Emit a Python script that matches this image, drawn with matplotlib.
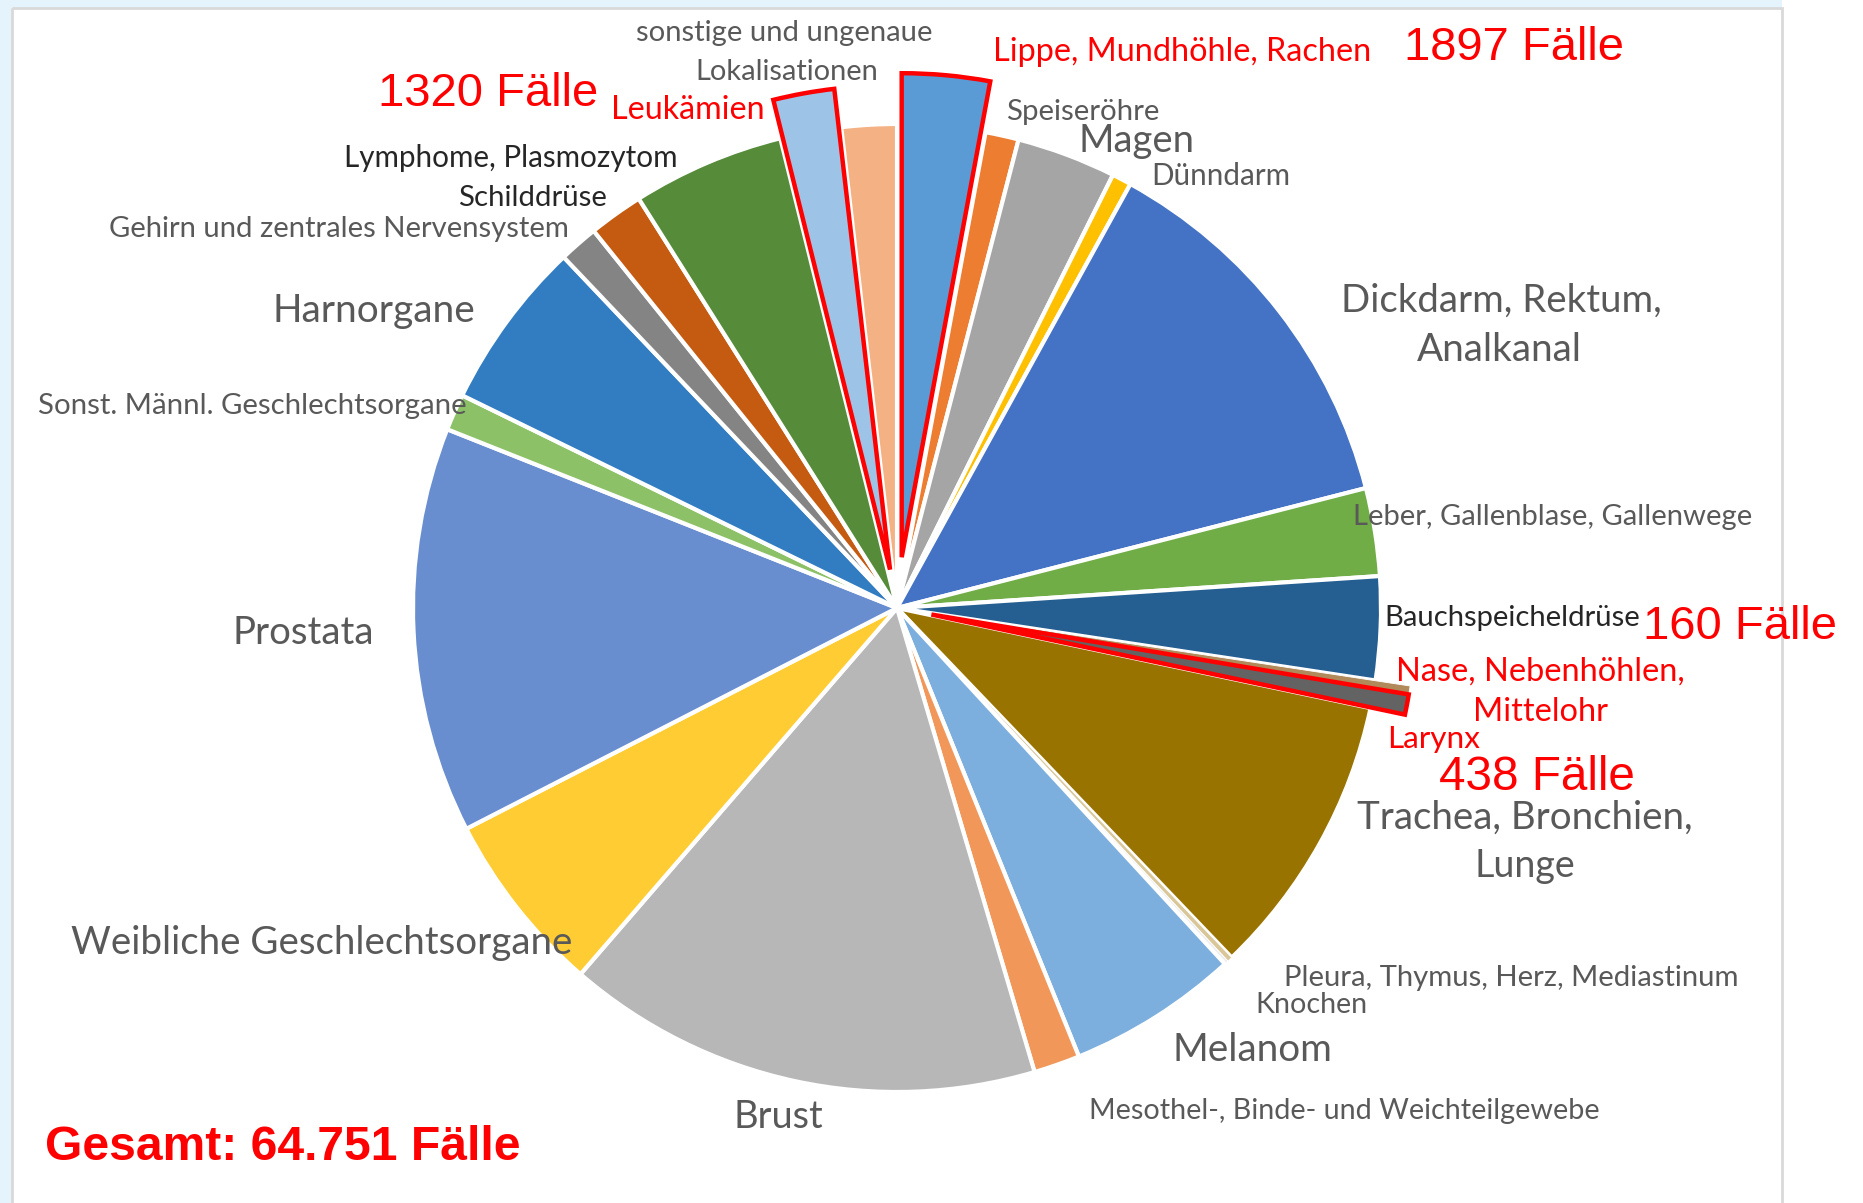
import matplotlib
matplotlib.use('Agg')
import matplotlib.pyplot as plt
from matplotlib.patches import Rectangle

# Krebsneuerkrankungen nach Lokalisation (Gesamt 64.751 Faelle)
sites = ['Lippe, Mundhöhle, Rachen', 'Speiseröhre', 'Magen', 'Dünndarm',
         'Dickdarm, Rektum, Analkanal', 'Leber, Gallenblase, Gallenwege',
         'Bauchspeicheldrüse', 'Nase, Nebenhöhlen, Mittelohr', 'Larynx',
         'Trachea, Bronchien, Lunge', 'Pleura, Thymus, Herz, Mediastinum',
         'Knochen', 'Melanom', 'Mesothel-, Binde- und Weichteilgewebe',
         'Brust', 'Weibliche Geschlechtsorgane', 'Prostata',
         'Sonst. Männl. Geschlechtsorgane', 'Harnorgane',
         'Gehirn und zentrales Nervensystem', 'Schilddrüse',
         'Lymphome, Plasmozytom', 'Leukämien', 'sonstige und ungenaue Lokalisationen']
cases = [1897, 720, 2150, 420, 8420, 1900, 2230, 160, 438, 6170, 110, 90,
         3700, 1000, 10316, 3960, 8780, 790, 3670, 850, 1180, 3290, 1320, 1190]
colors = ['#5B9BD5', '#ED7D31', '#A5A5A5', '#FFC000', '#4472C4', '#70AD47',
          '#255E91', '#B08A5A', '#636363', '#997300', '#D9C79A', '#EDEDED',
          '#7CAFDD', '#F1975A', '#B7B7B7', '#FFCD33', '#698ED0', '#8CC168',
          '#327DC2', '#848484', '#C55A11', '#568B3A', '#9DC3E6', '#F4B183']
highlight = ['Lippe, Mundhöhle, Rachen', 'Larynx', 'Leukämien']
# explode offsets in pixels (pie is drawn in pixel coordinates)
explode_px = {'Lippe, Mundhöhle, Rachen': 51, 'Leukämien': 39,
              'Larynx': 35, 'Nase, Nebenhöhlen, Mittelohr': 35}
total_text = 'Gesamt: 64.751 Fälle'

W, H = 1863, 1203
fig = plt.figure(figsize=(W / 100, H / 100), dpi=100)
fig.patch.set_facecolor('white')
ax = fig.add_axes([0, 0, 1, 1])

explode = [explode_px.get(s, 0) for s in sites]
# y axis is flipped below, so startangle=-90 / counterclock=True shows as
# starting at 12 o'clock and running clockwise
wedges, _ = ax.pie(cases, colors=colors, explode=explode, startangle=-90,
                   counterclock=True, center=(897, 608), radius=484,
                   wedgeprops=dict(edgecolor='white', linewidth=3))
for w, s in zip(wedges, sites):
    if s in highlight:
        w.set_edgecolor('#FF0000')
        w.set_linewidth(3.2)
        w.set_zorder(3)
    elif s.startswith('Nase') or s in ('Pleura, Thymus, Herz, Mediastinum', 'Knochen'):
        w.set_linewidth(0.6)

ax.set_xlim(0, W)
ax.set_ylim(H, 0)
ax.set_aspect('equal')
ax.axis('off')

# screenshot frame
ax.add_patch(Rectangle((0, 0), 1782, 8, facecolor='#E5F4FC', edgecolor='none', zorder=0))
ax.add_patch(Rectangle((0, 0), 12, H, facecolor='#E5F4FC', edgecolor='none', zorder=0))
ax.add_patch(Rectangle((12, 8), 1770, H, facecolor='none', edgecolor='#D9D9D9',
                       linewidth=2, zorder=0))

GRAY, BLACK, RED = '#595959', '#262626', '#FF0000'
LBL = 'Lato'
NARROW = ['Liberation Sans Narrow', 'Liberation Sans']

# text, x, y, ha, target width (px), color, family, weight
labels = [
    ('sonstige und ungenaue', 784, 33, 'center', 297, GRAY, LBL, 'normal'),
    ('Lokalisationen', 787, 72, 'center', 183, GRAY, LBL, 'normal'),
    ('Lippe, Mundhöhle, Rachen', 993, 52, 'left', 379, RED, LBL, 'normal'),
    ('1897 Fälle', 1404, 48, 'left', 220, RED, NARROW, 'normal'),
    ('1320 Fälle', 378, 94, 'left', 220, RED, NARROW, 'normal'),
    ('Leukämien', 611, 110, 'left', 154, RED, LBL, 'normal'),
    ('Speiseröhre', 1006, 112, 'left', 154, GRAY, LBL, 'normal'),
    ('Magen', 1078, 141, 'left', 116, GRAY, LBL, 'normal'),
    ('Dünndarm', 1151, 176, 'left', 139, GRAY, LBL, 'normal'),
    ('Dickdarm, Rektum,', 1501, 301, 'center', 322, GRAY, LBL, 'normal'),
    ('Analkanal', 1499, 350, 'center', 165, GRAY, LBL, 'normal'),
    ('Leber, Gallenblase, Gallenwege', 1353, 517, 'left', 400, GRAY, LBL, 'normal'),
    ('Bauchspeicheldrüse', 1384, 618, 'left', 257, BLACK, LBL, 'normal'),
    ('160 Fälle', 1643, 627, 'left', 194, RED, NARROW, 'normal'),
    ('Nase, Nebenhöhlen,', 1396, 672, 'left', 289, RED, LBL, 'normal'),
    ('Mittelohr', 1473, 712, 'left', 135, RED, LBL, 'normal'),
    ('Larynx', 1387, 739, 'left', 93, RED, LBL, 'normal'),
    ('438 Fälle', 1439, 778, 'left', 196, RED, NARROW, 'normal'),
    ('Trachea, Bronchien,', 1525, 818, 'center', 337, GRAY, LBL, 'normal'),
    ('Lunge', 1525, 866, 'center', 101, GRAY, LBL, 'normal'),
    ('Pleura, Thymus, Herz, Mediastinum', 1284, 978, 'left', 457, GRAY, LBL, 'normal'),
    ('Knochen', 1255, 1005, 'left', 112, GRAY, LBL, 'normal'),
    ('Melanom', 1173, 1050, 'left', 160, GRAY, LBL, 'normal'),
    ('Mesothel-, Binde- und Weichteilgewebe', 1089, 1111, 'left', 512, GRAY, LBL, 'normal'),
    ('Brust', 778, 1117, 'center', 90, GRAY, LBL, 'normal'),
    ('Weibliche Geschlechtsorgane', 71, 943, 'left', 503, GRAY, LBL, 'normal'),
    ('Prostata', 303, 633, 'center', 141, GRAY, LBL, 'normal'),
    ('Sonst. Männl. Geschlechtsorgane', 38, 406, 'left', 429, GRAY, LBL, 'normal'),
    ('Harnorgane', 374, 311, 'center', 203, GRAY, LBL, 'normal'),
    ('Gehirn und zentrales Nervensystem', 109, 229, 'left', 461, GRAY, LBL, 'normal'),
    ('Schilddrüse', 607, 198, 'right', 149, BLACK, LBL, 'normal'),
    ('Lymphome, Plasmozytom', 678, 158, 'right', 333, BLACK, LBL, 'normal'),
    (total_text, 45, 1148, 'left', 474, RED, NARROW, 'bold'),
]

renderer = fig.canvas.get_renderer()
for text, x, y, ha, width, color, family, weight in labels:
    t = ax.text(x, y, text, ha=ha, va='center', color=color, fontsize=20,
                family=family, fontweight=weight, zorder=5)
    # scale font so the label has the same width as in the reference
    w = t.get_window_extent(renderer).width
    t.set_fontsize(20 * width / w)

fig.savefig('out.png', dpi=100, facecolor=fig.get_facecolor())
